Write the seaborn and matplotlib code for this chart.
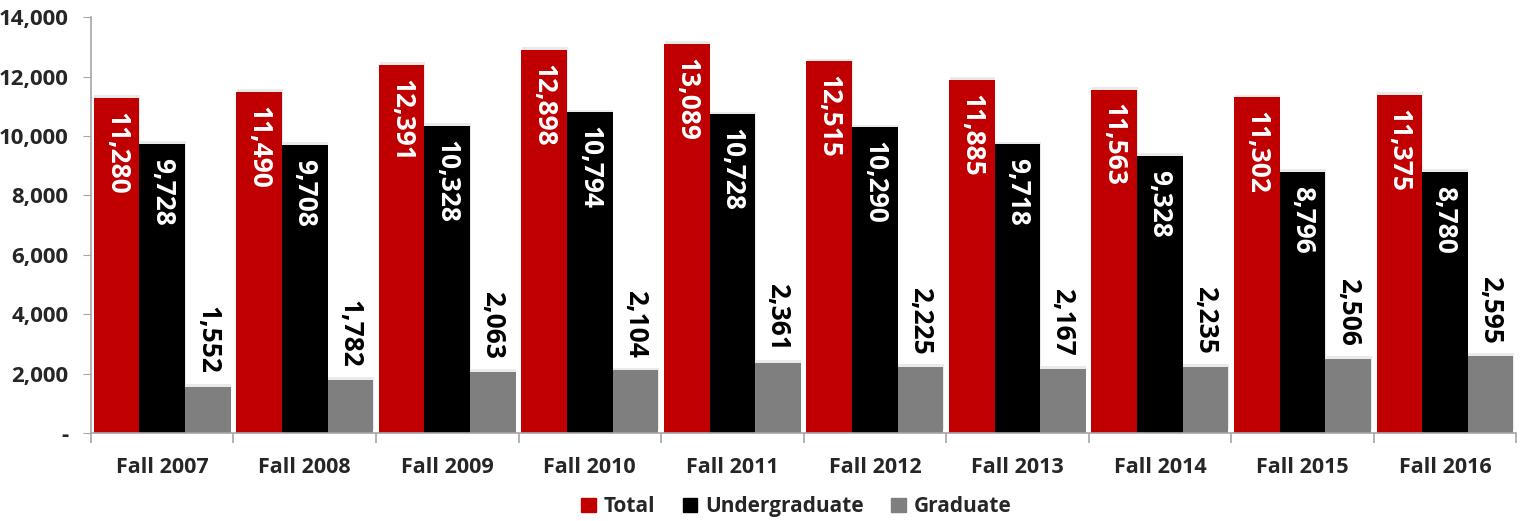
import matplotlib
matplotlib.use("Agg")
import matplotlib.pyplot as plt
import matplotlib.patheffects as pe
from matplotlib.ticker import FuncFormatter, FixedLocator
import seaborn as sns
import pandas as pd

categories = ["Fall 2007", "Fall 2008", "Fall 2009", "Fall 2010", "Fall 2011",
              "Fall 2012", "Fall 2013", "Fall 2014", "Fall 2015", "Fall 2016"]
total = [11280, 11490, 12391, 12898, 13089, 12515, 11885, 11563, 11302, 11375]
undergraduate = [9728, 9708, 10328, 10794, 10728, 10290, 9718, 9328, 8796, 8780]
graduate = [1552, 1782, 2063, 2104, 2361, 2225, 2167, 2235, 2506, 2595]
series_names = ["Total", "Undergraduate", "Graduate"]
colors = {"Total": "#C00000", "Undergraduate": "#000000", "Graduate": "#7F7F7F"}

rows = []
for name, vals in zip(series_names, [total, undergraduate, graduate]):
    for c, v in zip(categories, vals):
        rows.append({"term": c, "series": name, "value": v})
df = pd.DataFrame(rows)

sns.set_style("white")
plt.rcParams["font.family"] = ["Open Sans", "DejaVu Sans"]

fig = plt.figure(figsize=(15.26, 5.21), dpi=100)
ax = fig.add_axes([0.0596, 0.169, 0.934, 0.798])

sns.barplot(data=df, x="term", y="value", hue="series", order=categories,
            hue_order=series_names, palette=colors, width=0.96,
            saturation=1, legend=False, ax=ax, errorbar=None)

shadow = [pe.SimplePatchShadow(offset=(0.5, 2), shadow_rgbFace="#777777", alpha=0.15), pe.Normal()]
for cont in ax.containers:
    for bar in cont:
        bar.set_path_effects(shadow)
        bar.set_edgecolor("none")

label_size = 19
for cont, name in zip(ax.containers, series_names):
    for bar in cont:
        h = bar.get_height()
        x = bar.get_x() + bar.get_width() / 2
        txt = f"{int(round(h)):,}"
        if name in ("Total", "Undergraduate"):
            ax.annotate(txt, (x, h), xytext=(0, -10), textcoords="offset points",
                        rotation=270, ha="center", va="top", color="white",
                        fontsize=label_size, fontweight="bold")
        else:
            ax.annotate(txt, (x, h), xytext=(0, 9), textcoords="offset points",
                        rotation=270, ha="center", va="bottom", color="black",
                        fontsize=label_size, fontweight="bold",
                        bbox=dict(facecolor="white", edgecolor="none", pad=1.0))

ax.set_ylim(0, 14000)
ax.set_xlim(-0.5, len(categories) - 0.5)
ax.set_yticks(range(0, 14001, 2000))
ax.yaxis.set_major_formatter(FuncFormatter(lambda v, p: "-" if v == 0 else f"{int(v):,}"))
ax.set_xlabel("")
ax.set_ylabel("")

for s in ["top", "right"]:
    ax.spines[s].set_visible(False)
for s in ["left", "bottom"]:
    ax.spines[s].set_color("#A6A6A6")
    ax.spines[s].set_linewidth(1.2)

ax.tick_params(axis="y", which="major", left=True, length=6, color="#A6A6A6",
               labelsize=16, pad=10)
ax.tick_params(axis="x", which="major", bottom=False, length=0, labelsize=15.5, pad=17)
ax.xaxis.set_minor_locator(FixedLocator([i - 0.5 for i in range(len(categories) + 1)]))
ax.tick_params(axis="x", which="minor", bottom=True, length=7, color="#A6A6A6", width=1.2)
for lbl in ax.get_xticklabels() + ax.get_yticklabels():
    lbl.set_fontweight("bold")

handles = [plt.Rectangle((0, 0), 1, 1, color=colors[n]) for n in series_names]
fig.legend(handles, series_names, loc="center", bbox_to_anchor=(0.522, 0.027),
           ncol=3, frameon=False, handlelength=0.7, handleheight=0.7,
           handletextpad=0.4, columnspacing=1.3,
           prop={"size": 15, "weight": "bold"})

fig.savefig("out.png", dpi=100)
